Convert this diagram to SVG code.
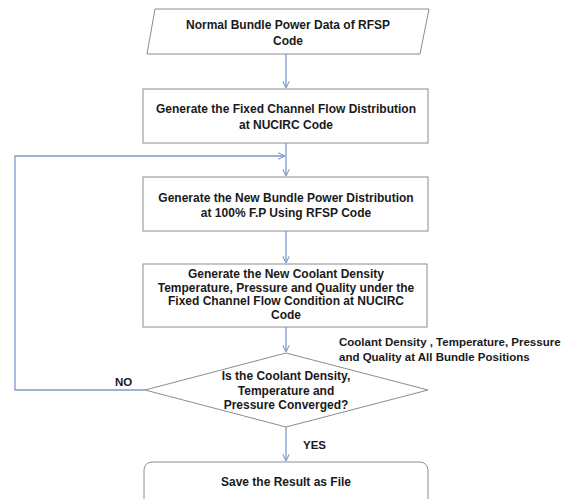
<svg xmlns="http://www.w3.org/2000/svg" width="564" height="499" viewBox="0 0 564 499">
<defs>
<style>
.box{fill:#fff;stroke:#8c8c8c;stroke-width:1}
.t{font-family:"Liberation Sans",Arial,sans-serif;font-size:12px;font-weight:bold;fill:#1a1a1a;text-anchor:middle}
.l{font-family:"Liberation Sans",Arial,sans-serif;font-size:11.5px;font-weight:bold;fill:#1a1a1a}
.c{fill:none;stroke:#7b9bcb;stroke-width:1.3}
</style>
<marker id="ah" viewBox="0 0 10 10" refX="9.5" refY="5" markerWidth="8" markerHeight="8" markerUnits="userSpaceOnUse" orient="auto">
<path d="M1,1 L9.5,5 L1,9" fill="none" stroke="#7b9bcb" stroke-width="1.3"/>
</marker>
</defs>
<rect width="564" height="499" fill="#fff"/>
<g id="connectors">
<line class="c" x1="286" y1="54" x2="286" y2="88" marker-end="url(#ah)"/>
<line class="c" x1="286" y1="143" x2="286" y2="176" marker-end="url(#ah)"/>
<polyline class="c" points="145,390 15,390 15,156 285,156" marker-end="url(#ah)"/>
<line class="c" x1="286" y1="231" x2="286" y2="263" marker-end="url(#ah)"/>
<line class="c" x1="286" y1="327" x2="286" y2="352" marker-end="url(#ah)"/>
<line class="c" x1="286" y1="427" x2="286" y2="461" marker-end="url(#ah)"/>
<text class="l" x="115" y="386">NO</text>
<text class="l" x="303" y="449">YES</text>
<text class="l" x="339" y="346">Coolant Density , Temperature, Pressure</text>
<text class="l" x="339" y="361">and Quality at All Bundle Positions</text>
</g>
<g id="n1">
<polygon class="box" points="155,9 429,9 420,54 147,54"/>
<text class="t" x="288" y="29">Normal Bundle Power Data of RFSP</text>
<text class="t" x="288" y="45">Code</text>
</g>
<g id="n2">
<rect class="box" x="143" y="89" width="285" height="54"/>
<text class="t" x="286" y="113">Generate the Fixed Channel Flow Distribution</text>
<text class="t" x="286" y="129">at NUCIRC Code</text>
</g>
<g id="n3">
<rect class="box" x="143" y="177" width="285" height="54"/>
<text class="t" x="286" y="202">Generate the New Bundle Power Distribution</text>
<text class="t" x="286" y="217">at 100% F.P Using RFSP Code</text>
</g>
<g id="n4">
<rect class="box" x="143" y="264" width="284" height="63"/>
<text class="t" x="286" y="278">Generate the New Coolant Density</text>
<text class="t" x="286" y="291.5">Temperature, Pressure and Quality under the</text>
<text class="t" x="286" y="305">Fixed Channel Flow Condition at NUCIRC</text>
<text class="t" x="286" y="318.5">Code</text>
</g>
<g id="n5">
<polygon class="box" points="286,353 428,390 286,427 145,390"/>
<text class="t" x="286" y="380">Is the Coolant Density,</text>
<text class="t" x="286" y="395">Temperature and</text>
<text class="t" x="286" y="409">Pressure Converged?</text>
</g>
<g id="n6">
<rect class="box" x="144" y="462" width="284" height="50" rx="8"/>
<text class="t" x="286" y="486">Save the Result as File</text>
</g>
</svg>
